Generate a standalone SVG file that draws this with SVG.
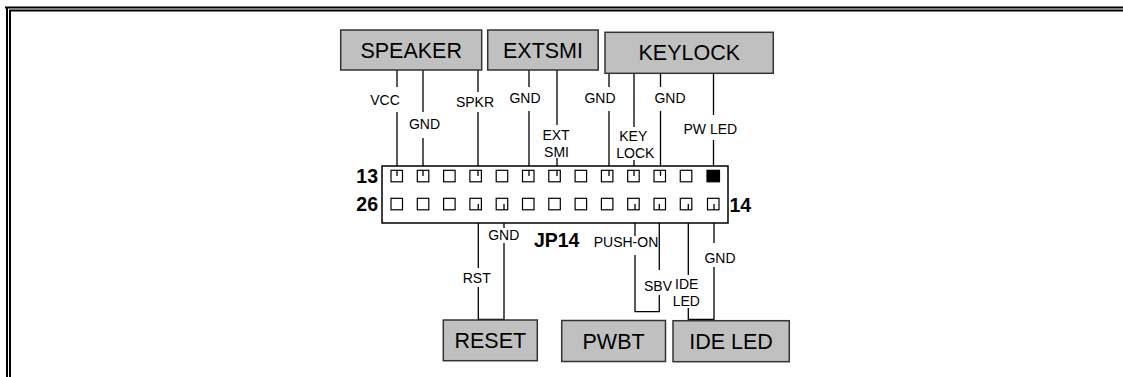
<svg xmlns="http://www.w3.org/2000/svg" width="1123" height="377" viewBox="0 0 1123 377">
<style>
.box{fill:#c0c0c0;stroke:#333;stroke-width:1.5}
.bt{font-family:"Liberation Sans",Arial,sans-serif;font-size:21.5px;text-anchor:middle;fill:#000}
.lb{font-family:"Liberation Sans",Arial,sans-serif;font-size:14px;text-anchor:middle;fill:#000}
.num{font-family:"Liberation Sans",Arial,sans-serif;font-size:19.5px;font-weight:bold;fill:#000}
.w{fill:none;stroke:#000;stroke-width:1.3}
.pin{fill:#fff;stroke:#000;stroke-width:1.2}
.frame{fill:none;stroke:#000;stroke-width:2}
</style>
<rect width="1123" height="377" fill="#fff"/>
<g id="frame">
<path class="frame" d="M5,7.5 H1123 M7,6.5 V377 M10,10.5 H1123 M10,9.5 V377"/>
</g>
<g id="connectors">
<path class="w" d="M397,70 V87 M397,112 V176"/>
<path class="w" d="M423,70 V112 M423,138 V176"/>
<path class="w" d="M478,70 V92 M478,112 V176"/>
<path class="w" d="M529,70 V87 M529,111 V176"/>
<path class="w" d="M557,70 V125 M557,158 V176"/>
<path class="w" d="M609,73 V87 M609,111 V176"/>
<path class="w" d="M634,73 V127 M634,160 V176"/>
<path class="w" d="M660.5,73 V87 M660.5,111 V176"/>
<path class="w" d="M713.5,73 V115 M713.5,140 V176"/>
<path class="w" d="M478.3,204 V268 M478.3,287 V319.5 H504 V243 M504,228 V204"/>
<path class="w" d="M635,204 V236 M635,255 V311.7 H659.3 V295 M659.3,270 V204"/>
<path class="w" d="M688.3,204 V275 M688.3,308 V319.5 H714 V267 M714,243 V204"/>
</g>
<g id="JP14">
<rect x="382" y="166" width="346" height="57" fill="#fff" stroke="#000" stroke-width="1.5"/>
<g id="pins-top">
<rect class="pin" x="391" y="170.3" width="11.5" height="11.5"/>
<rect class="pin" x="417.3" y="170.3" width="11.5" height="11.5"/>
<rect class="pin" x="443.6" y="170.3" width="11.5" height="11.5"/>
<rect class="pin" x="469.9" y="170.3" width="11.5" height="11.5"/>
<rect class="pin" x="496.2" y="170.3" width="11.5" height="11.5"/>
<rect class="pin" x="522.5" y="170.3" width="11.5" height="11.5"/>
<rect class="pin" x="548.8" y="170.3" width="11.5" height="11.5"/>
<rect class="pin" x="575.1" y="170.3" width="11.5" height="11.5"/>
<rect class="pin" x="601.4" y="170.3" width="11.5" height="11.5"/>
<rect class="pin" x="627.7" y="170.3" width="11.5" height="11.5"/>
<rect class="pin" x="654" y="170.3" width="11.5" height="11.5"/>
<rect class="pin" x="680.3" y="170.3" width="11.5" height="11.5"/>
<rect x="707" y="170.3" width="12.5" height="11.5" fill="#000" stroke="#000" stroke-width="1.2"/>
</g>
<g id="pins-bottom">
<rect class="pin" x="391" y="198.3" width="11.5" height="11.5"/>
<rect class="pin" x="417.3" y="198.3" width="11.5" height="11.5"/>
<rect class="pin" x="443.6" y="198.3" width="11.5" height="11.5"/>
<rect class="pin" x="469.9" y="198.3" width="11.5" height="11.5"/>
<rect class="pin" x="496.2" y="198.3" width="11.5" height="11.5"/>
<rect class="pin" x="522.5" y="198.3" width="11.5" height="11.5"/>
<rect class="pin" x="548.8" y="198.3" width="11.5" height="11.5"/>
<rect class="pin" x="575.1" y="198.3" width="11.5" height="11.5"/>
<rect class="pin" x="601.4" y="198.3" width="11.5" height="11.5"/>
<rect class="pin" x="627.7" y="198.3" width="11.5" height="11.5"/>
<rect class="pin" x="654" y="198.3" width="11.5" height="11.5"/>
<rect class="pin" x="680.3" y="198.3" width="11.5" height="11.5"/>
<rect class="pin" x="707.5" y="198.3" width="11.5" height="11.5"/>
</g>
<path class="w" d="M397,176 V170.3 M423,176 V170.3 M478,176 V170.3 M529,176 V170.3 M557,176 V170.3 M609,176 V170.3 M634,176 V170.3 M660.5,176 V170.3 M478.3,204 V209.8 M504,204 V209.8 M635,204 V209.8 M659.3,204 V209.8 M688.3,204 V209.8 M714,204 V209.8"/>
<text class="num" x="378" y="182.5" text-anchor="end">13</text>
<text class="num" x="378" y="211" text-anchor="end">26</text>
<text class="num" x="729.5" y="212">14</text>
<text class="num" x="556.7" y="246.5" text-anchor="middle">JP14</text>
</g>
<g id="labels">
<text class="lb" x="385" y="104.5">VCC</text>
<text class="lb" x="424.5" y="129">GND</text>
<text class="lb" x="475" y="106.5">SPKR</text>
<text class="lb" x="525" y="103">GND</text>
<text class="lb" x="556" y="140">EXT</text>
<text class="lb" x="556.5" y="156.5">SMI</text>
<text class="lb" x="600" y="103">GND</text>
<text class="lb" x="633.3" y="140.5">KEY</text>
<text class="lb" x="635.3" y="158">LOCK</text>
<text class="lb" x="670" y="103">GND</text>
<text class="lb" x="710.3" y="133.8">PW LED</text>
<text class="lb" x="476.7" y="283">RST</text>
<text class="lb" x="503.8" y="239.8">GND</text>
<text class="lb" x="626" y="246.5">PUSH-ON</text>
<text class="lb" x="658" y="290.5">SBV</text>
<text class="lb" x="686.7" y="288.8">IDE</text>
<text class="lb" x="686.3" y="305.5">LED</text>
<text class="lb" x="720" y="263">GND</text>
</g>
<g id="speaker">
<rect class="box" x="340.7" y="30" width="141" height="40"/>
<text class="bt" x="411.2" y="57.5">SPEAKER</text>
</g>
<g id="extsmi">
<rect class="box" x="487.7" y="30" width="110.5" height="40"/>
<text class="bt" x="543" y="57.5">EXTSMI</text>
</g>
<g id="keylock">
<rect class="box" x="605" y="32.3" width="168.3" height="41"/>
<text class="bt" x="689.3" y="59.5">KEYLOCK</text>
</g>
<g id="reset">
<rect class="box" x="443.3" y="320" width="94" height="40.7"/>
<text class="bt" x="490.3" y="348">RESET</text>
</g>
<g id="pwbt">
<rect class="box" x="561.7" y="320.5" width="103.8" height="41"/>
<text class="bt" x="613.6" y="348.5">PWBT</text>
</g>
<g id="ideled">
<rect class="box" x="673" y="320.7" width="116.3" height="41"/>
<text class="bt" x="731" y="348.5">IDE LED</text>
</g>
</svg>
